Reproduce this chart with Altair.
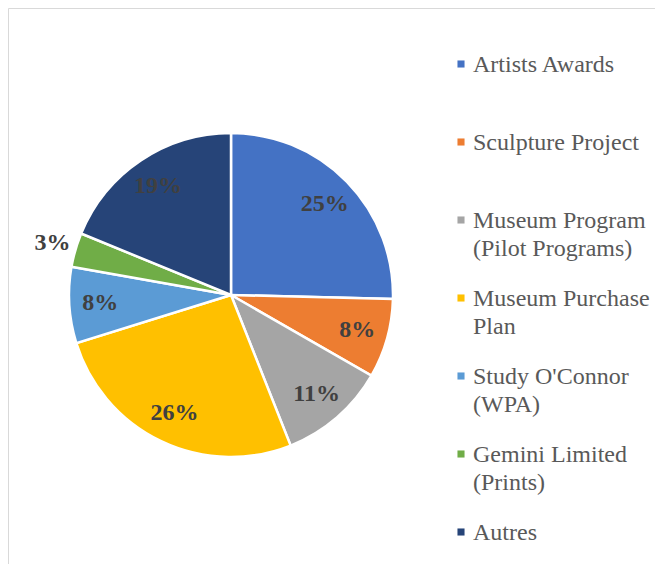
import altair as alt
import pandas as pd

categories = [
    "Artists Awards",
    "Sculpture Project",
    "Museum Program\n(Pilot Programs)",
    "Museum Purchase\nPlan",
    "Study O'Connor\n(WPA)",
    "Gemini Limited\n(Prints)",
    "Autres",
]
values = [25.4, 7.9, 10.7, 26.2, 7.6, 3.4, 18.8]
colors = ["#4472C4", "#ED7D31", "#A5A5A5", "#FFC000", "#5B9BD5", "#70AD47", "#264478"]

df = pd.DataFrame({"cat": categories, "value": values, "idx": list(range(len(categories)))})

color_scale = alt.Scale(domain=categories, range=colors)
CX, CY = 223, 287
SERIF = "Liberation Serif, Times New Roman, serif"

base = alt.Chart(df)

pie = base.mark_arc(outerRadius=162, stroke="white", strokeWidth=2.5).encode(
    theta=alt.Theta("value:Q", stack=True),
    order=alt.Order("idx:Q"),
    color=alt.Color("cat:N", scale=color_scale, legend=None),
    x=alt.value(CX),
    y=alt.value(CY),
)

label_style = dict(font=SERIF, fontSize=24, fontWeight="bold", color="#404040")

inner = base.transform_calculate(
    pct="format(datum.value, '.0f') + '%'"
).mark_text(radius=131, **label_style).encode(
    theta=alt.Theta("value:Q", stack=True),
    order=alt.Order("idx:Q"),
    text=alt.condition("datum.value >= 5", alt.Text("pct:N"), alt.value("")),
    x=alt.value(CX),
    y=alt.value(CY),
)

outer = base.transform_calculate(
    pct="format(datum.value, '.0f') + '%'"
).mark_text(radius=186, **label_style).encode(
    theta=alt.Theta("value:Q", stack=True),
    order=alt.Order("idx:Q"),
    text=alt.condition("datum.value < 5", alt.Text("pct:N"), alt.value("")),
    x=alt.value(CX),
    y=alt.value(CY),
)

yscale = alt.Scale(domain=[0, 6], range=[56, 524])

leg_sym = base.mark_square(size=50, opacity=1).encode(
    x=alt.value(453),
    y=alt.Y("idx:Q", scale=yscale, axis=None),
    color=alt.Color("cat:N", scale=color_scale, legend=None),
)

leg_txt = base.mark_text(
    align="left", baseline="alphabetic", dy=8, lineBreak="\n", lineHeight=28,
    font=SERIF, fontSize=24, color="#595959",
).encode(
    x=alt.value(465),
    y=alt.Y("idx:Q", scale=yscale, axis=None),
    text="cat:N",
)

chart = alt.layer(pie, inner, outer, leg_sym, leg_txt).properties(
    width=647, height=556, padding=0
).configure_view(stroke="#d9d9d9", strokeWidth=1)

chart.save("out.html", embed_options={"renderer": "svg", "actions": False})
